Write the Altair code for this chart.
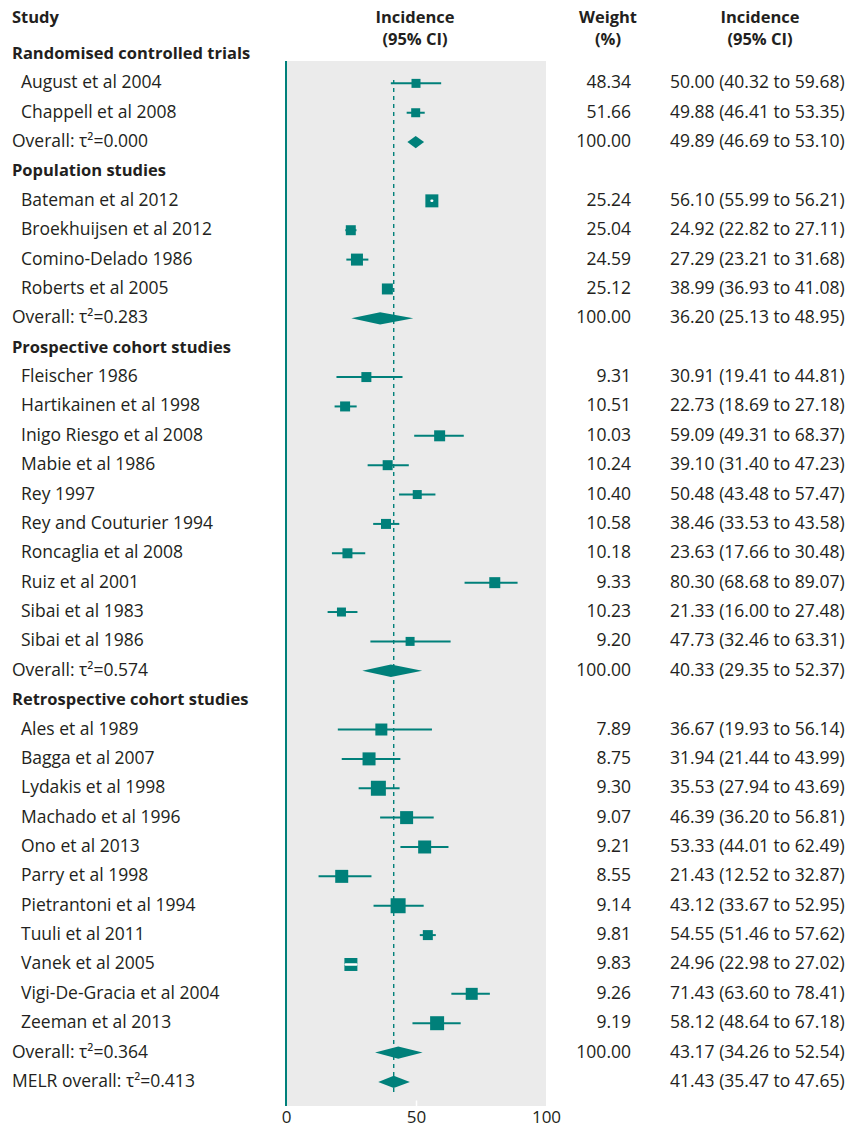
import altair as alt
import pandas as pd

# ---- study data -------------------------------------------------------
group_names = [
    "Randomised controlled trials",
    "Population studies",
    "Prospective cohort studies",
    "Retrospective cohort studies",
]

studies = [
    ["August et al 2004", "Chappell et al 2008"],
    ["Bateman et al 2012", "Broekhuijsen et al 2012", "Comino-Delado 1986", "Roberts et al 2005"],
    ["Fleischer 1986", "Hartikainen et al 1998", "Inigo Riesgo et al 2008", "Mabie et al 1986",
     "Rey 1997", "Rey and Couturier 1994", "Roncaglia et al 2008", "Ruiz et al 2001",
     "Sibai et al 1983", "Sibai et al 1986"],
    ["Ales et al 1989", "Bagga et al 2007", "Lydakis et al 1998", "Machado et al 1996",
     "Ono et al 2013", "Parry et al 1998", "Pietrantoni et al 1994", "Tuuli et al 2011",
     "Vanek et al 2005", "Vigi-De-Gracia et al 2004", "Zeeman et al 2013"],
]

weights = [
    [48.34, 51.66],
    [25.24, 25.04, 24.59, 25.12],
    [9.31, 10.51, 10.03, 10.24, 10.40, 10.58, 10.18, 9.33, 10.23, 9.20],
    [7.89, 8.75, 9.30, 9.07, 9.21, 8.55, 9.14, 9.81, 9.83, 9.26, 9.19],
]

incidence = [
    [50.00, 49.88],
    [56.10, 24.92, 27.29, 38.99],
    [30.91, 22.73, 59.09, 39.10, 50.48, 38.46, 23.63, 80.30, 21.33, 47.73],
    [36.67, 31.94, 35.53, 46.39, 53.33, 21.43, 43.12, 54.55, 24.96, 71.43, 58.12],
]

ci_low = [
    [40.32, 46.41],
    [55.99, 22.82, 23.21, 36.93],
    [19.41, 18.69, 49.31, 31.40, 43.48, 33.53, 17.66, 68.68, 16.00, 32.46],
    [19.93, 21.44, 27.94, 36.20, 44.01, 12.52, 33.67, 51.46, 22.98, 63.60, 48.64],
]

ci_high = [
    [59.68, 53.35],
    [56.21, 27.11, 31.68, 41.08],
    [44.81, 27.18, 68.37, 47.23, 57.47, 43.58, 30.48, 89.07, 27.48, 63.31],
    [56.14, 43.99, 43.69, 56.81, 62.49, 32.87, 52.95, 57.62, 27.02, 78.41, 67.18],
]

# relative weight behind each study's box
box_weight = [
    [0.81, 0.81],
    [1.69, 1.00, 1.44, 1.21],
    [1.00, 1.00, 1.21, 1.00, 0.81, 1.00, 1.00, 1.21, 0.81, 0.81],
    [1.44, 1.69, 2.25, 1.69, 1.69, 1.69, 2.25, 1.00, 1.69, 1.44, 1.96],
]

# pooled estimates per group
tau2 = ["0.000", "0.283", "0.574", "0.364"]
pooled_est = [49.89, 36.20, 40.33, 43.17]
pooled_low = [46.69, 25.13, 29.35, 34.26]
pooled_high = [53.10, 48.95, 52.37, 52.54]

melr_tau2 = "0.413"
melr_est, melr_low, melr_high = 41.43, 35.47, 47.65

# ---- build row tables -------------------------------------------------
rows = []
r = 0
for g, name in enumerate(group_names):
    rows.append(dict(row=r, label=name, kind="group"))
    r += 1
    for s, study in enumerate(studies[g]):
        rows.append(dict(row=r, label=study, kind="study",
                         est=incidence[g][s], lo=ci_low[g][s], hi=ci_high[g][s],
                         weight=weights[g][s], box=box_weight[g][s]))
        r += 1
    rows.append(dict(row=r, label=f"Overall: \u03c4\u00b2={tau2[g]}", kind="overall",
                     est=pooled_est[g], lo=pooled_low[g], hi=pooled_high[g], weight=100.0))
    r += 1
rows.append(dict(row=r, label=f"MELR overall: \u03c4\u00b2={melr_tau2}", kind="melr",
                 est=melr_est, lo=melr_low, hi=melr_high))
df = pd.DataFrame(rows)
df["wtext"] = df["weight"].map(lambda w: f"{w:.2f}" if pd.notna(w) else "")
df["citext"] = df.apply(
    lambda d: f"{d.est:.2f} ({d.lo:.2f} to {d.hi:.2f})" if pd.notna(d.est) else "", axis=1)

study_df = df[df.kind == "study"].copy()
# confidence intervals well inside their box are drawn in white on top of it
PX_PER_UNIT = 2.6
study_df["inside"] = (study_df.hi - study_df.lo) * PX_PER_UNIT < 0.9 * (study_df.box ** 0.5) * 10

HALF_H = 0.21  # diamond half height in row units
diamond_pts = []
for _, d in df[df.kind.isin(["overall", "melr"])].iterrows():
    diamond_pts += [
        dict(id=d.row, x=d.lo, y=d.row, y2=d.row),
        dict(id=d.row, x=d.est, y=d.row - HALF_H, y2=d.row + HALF_H),
        dict(id=d.row, x=d.hi, y=d.row, y2=d.row),
    ]
diamonds = pd.DataFrame(diamond_pts)

# ---- styling ----------------------------------------------------------
TEAL = "#00807a"
PANEL = "#ebebeb"
INK = "#231f20"
FONT = "Open Sans"
FS = 17.5
FS_BOLD = 16.5
W, H = 854, 1129
X0 = 286  # pixel position of incidence 0

xscale = alt.Scale(domain=[-X0 / PX_PER_UNIT, (W - X0) / PX_PER_UNIT], nice=False, zero=False)
ROW_PX = 29.37
TOP = 54
yscale = alt.Scale(domain=[-TOP / ROW_PX, (H - TOP) / ROW_PX], reverse=True, nice=False, zero=False)

xaxis = alt.Axis(values=[0, 50, 100], orient="bottom", offset=-29, domain=False, grid=False,
                 tickSize=6, tickWidth=1.5,
                 tickColor={"expr": "datum.value == 50 ? 'white' : 'transparent'"},
                 labelFont=FONT, labelFontSize=17, labelColor=INK, labelPadding=3,
                 title=None, zindex=1)

panel = alt.Chart(pd.DataFrame({"a": [0]})).mark_rect(color=PANEL).encode(
    x=alt.value(X0), x2=alt.value(X0 + 260), y=alt.value(61), y2=alt.value(1106))

zero_line = alt.Chart(pd.DataFrame({"x": [0]})).mark_rule(color=TEAL, strokeWidth=2).encode(
    x=alt.X("x:Q", scale=xscale, axis=xaxis), y=alt.value(61), y2=alt.value(1106))

melr_line = alt.Chart(pd.DataFrame({"x": [melr_est]})).mark_rule(
    color=TEAL, strokeWidth=1.4, strokeDash=[4, 4]).encode(
    x=alt.X("x:Q", scale=xscale), y=alt.value(80), y2=alt.value(1092))

ci_lines = alt.Chart(study_df[~study_df.inside]).mark_rule(color=TEAL, strokeWidth=2).encode(
    x=alt.X("lo:Q", scale=xscale), x2="hi:Q", y=alt.Y("row:Q", scale=yscale, axis=None))

boxes = alt.Chart(study_df).mark_square(color=TEAL, opacity=1, filled=True).encode(
    x=alt.X("est:Q", scale=xscale), y=alt.Y("row:Q", scale=yscale),
    size=alt.Size("box:Q", scale=alt.Scale(domain=[0, 2.25], range=[0, 225], zero=True), legend=None))

ci_inner = alt.Chart(study_df[study_df.inside]).mark_rule(
    color="white", strokeWidth=2.5, strokeCap="round").encode(
    x=alt.X("lo:Q", scale=xscale), x2="hi:Q", y=alt.Y("row:Q", scale=yscale))

diamond = alt.Chart(diamonds).mark_area(color=TEAL, opacity=1, orient="vertical").encode(
    x=alt.X("x:Q", scale=xscale), y=alt.Y("y:Q", scale=yscale), y2="y2:Q", detail="id:N")


def txt(data, size=FS, **kw):
    return alt.Chart(data).mark_text(font=FONT, fontSize=size, color=INK, baseline="middle", **kw)


group_txt = txt(df[df.kind == "group"], size=FS_BOLD, align="left", fontWeight="bold").encode(
    x=alt.value(12), y=alt.Y("row:Q", scale=yscale), text="label:N")
study_txt = txt(df[df.kind == "study"], align="left").encode(
    x=alt.value(21), y=alt.Y("row:Q", scale=yscale), text="label:N")
overall_txt = txt(df[df.kind.isin(["overall", "melr"])], align="left").encode(
    x=alt.value(12), y=alt.Y("row:Q", scale=yscale), text="label:N")
weight_txt = txt(df[df.wtext != ""], align="right").encode(
    x=alt.value(631), y=alt.Y("row:Q", scale=yscale), text="wtext:N")
ci_txt = txt(df[df.citext != ""], align="left").encode(
    x=alt.value(670), y=alt.Y("row:Q", scale=yscale), text="citext:N")

headers = pd.DataFrame([
    dict(t="Study", x=12, y=18, a="left"),
    dict(t="Incidence", x=415, y=18, a="center"),
    dict(t="(95% CI)", x=415, y=40, a="center"),
    dict(t="Weight", x=608, y=18, a="center"),
    dict(t="(%)", x=608, y=40, a="center"),
    dict(t="Incidence", x=760, y=18, a="center"),
    dict(t="(95% CI)", x=760, y=40, a="center"),
])
head_layers = []
for _, h in headers.iterrows():
    head_layers.append(
        alt.Chart(pd.DataFrame({"t": [h.t]})).mark_text(
            font=FONT, fontSize=FS_BOLD, color=INK, fontWeight="bold", baseline="middle", align=h.a
        ).encode(x=alt.value(int(h.x)), y=alt.value(int(h.y)), text="t:N"))

chart = alt.layer(
    panel, zero_line, melr_line, ci_lines, boxes, ci_inner, diamond,
    group_txt, study_txt, overall_txt, weight_txt, ci_txt, *head_layers
).properties(
    width=W, height=H, autosize=alt.AutoSizeParams(type="none"), padding=0,
    background="white"
).configure_view(stroke=None)

chart.save("out.html", embed_options={"renderer": "svg", "actions": False})
